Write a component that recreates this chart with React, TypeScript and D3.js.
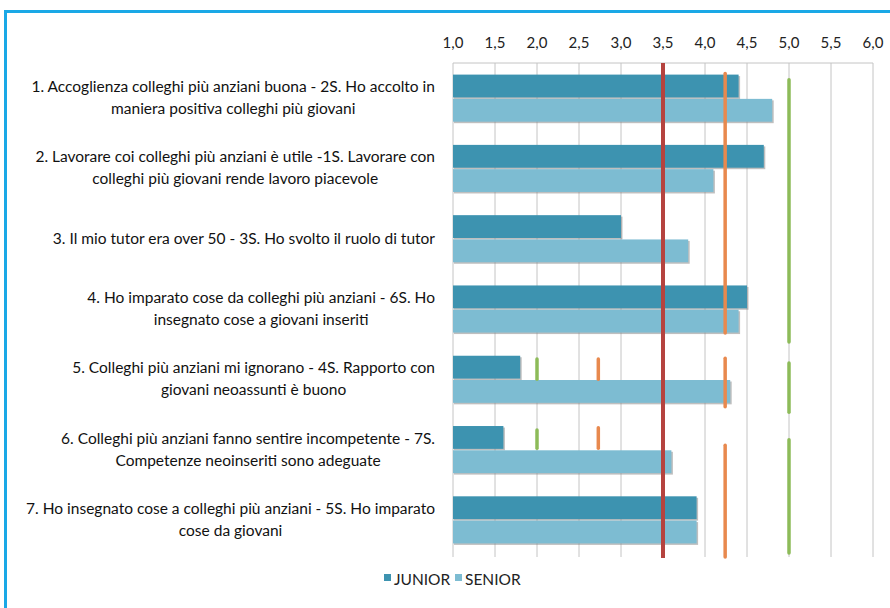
import * as d3 from "d3";
import React, { useEffect, useRef } from "react";

const categories = [
  ["1. Accoglienza colleghi più anziani buona - 2S. Ho accolto in", "maniera positiva colleghi più giovani"],
  ["2. Lavorare coi colleghi più anziani è utile -1S. Lavorare con", "colleghi più giovani rende lavoro piacevole"],
  ["3. Il mio tutor era over 50 - 3S. Ho svolto il ruolo di tutor"],
  ["4. Ho imparato cose da colleghi più anziani - 6S. Ho", "insegnato cose a giovani inseriti"],
  ["5. Colleghi più anziani mi ignorano - 4S. Rapporto con", "giovani neoassunti è buono"],
  ["6. Colleghi più anziani fanno sentire incompetente - 7S.", "Competenze neoinseriti sono adeguate"],
  ["7. Ho insegnato cose a colleghi più anziani - 5S. Ho imparato", "cose da giovani"],
];

const seriesNames = ["JUNIOR", "SENIOR"];
const juniorValues = [4.4, 4.7, 3.0, 4.5, 1.8, 1.6, 3.9];
const seniorValues = [4.8, 4.1, 3.8, 4.4, 4.3, 3.6, 3.9];

const tickValues = [1.0, 1.5, 2.0, 2.5, 3.0, 3.5, 4.0, 4.5, 5.0, 5.5, 6.0];

// reference line at scale midpoint
const midValue = 3.5;

// reference segments: value, start / end in category units (0..7)
const orangeSegments = [
  { value: 4.24, from: 0.15, to: 3.84 },
  { value: 4.24, from: 4.2, to: 4.89 },
  { value: 4.24, from: 5.44, to: 7.03 },
  { value: 2.73, from: 4.21, to: 4.5 },
  { value: 2.73, from: 5.19, to: 5.48 },
];
const greenSegments = [
  { value: 5.0, from: 0.24, to: 3.97 },
  { value: 5.0, from: 4.27, to: 4.97 },
  { value: 5.0, from: 5.36, to: 6.97 },
  { value: 2.0, from: 4.21, to: 4.5 },
  { value: 2.0, from: 5.22, to: 5.48 },
];

const colors = ["#3d93b0", "#7dbcd2"];
const FONT = "Lato, 'Open Sans', sans-serif";

const App: React.FC = () => {
  const svgRef = useRef<SVGSVGElement>(null);

  useEffect(() => {
    const svg = d3.select(svgRef.current);
    svg.selectAll("*").remove();

    const width = 890;
    const height = 608;
    const left = 453;
    const right = 873;
    const top = 63;
    const bottom = 555;

    svg.append("rect").attr("width", width).attr("height", height).attr("fill", "#fff");

    // outer frame
    svg
      .append("rect")
      .attr("x", 5.5)
      .attr("y", 11.5)
      .attr("width", 920)
      .attr("height", 700)
      .attr("fill", "none")
      .attr("stroke", "#1aa8e6")
      .attr("stroke-width", 3);

    const x = d3.scaleLinear().domain([1, 6]).range([left, right]);
    const yPos = d3.scaleLinear().domain([0, categories.length]).range([top, bottom]);

    const y = d3
      .scaleBand<number>()
      .domain(d3.range(categories.length))
      .range([top, bottom])
      .paddingInner(0.33)
      .paddingOuter(0.165);
    const ySub = d3
      .scaleBand<number>()
      .domain([0, 1])
      .range([0, y.bandwidth()])
      .paddingInner(0.06);

    // grid
    const grid = svg.append("g");
    grid
      .selectAll("line")
      .data(tickValues)
      .join("line")
      .attr("x1", (d) => x(d))
      .attr("x2", (d) => x(d))
      .attr("y1", top)
      .attr("y2", bottom + 2)
      .attr("stroke", "#c4c4c4")
      .attr("stroke-width", 1);
    grid
      .append("line")
      .attr("x1", left)
      .attr("x2", right)
      .attr("y1", top)
      .attr("y2", top)
      .attr("stroke", "#c4c4c4");

    // axis labels on top
    svg
      .append("g")
      .selectAll("text")
      .data(tickValues)
      .join("text")
      .attr("x", (d) => x(d))
      .attr("y", 48)
      .attr("text-anchor", "middle")
      .attr("font-family", FONT)
      .attr("font-size", 15)
      .attr("fill", "#222")
      .text((d) => d3.format(".1f")(d).replace(".", ","));

    // bars
    const values = [juniorValues, seniorValues];
    const groups = svg
      .append("g")
      .selectAll("g")
      .data(d3.range(categories.length))
      .join("g")
      .attr("transform", (i) => `translate(0,${y(i)})`);

    values.forEach((vals, s) => {
      groups
        .append("rect")
        .attr("x", left + 1)
        .attr("y", (i) => (ySub(s) as number) + 1.5)
        .attr("width", (i) => x(vals[i]) - left + 0.5)
        .attr("height", ySub.bandwidth())
        .attr("fill", "#8a8a8a")
        .attr("opacity", 0.55);
      groups
        .append("rect")
        .attr("x", left)
        .attr("y", ySub(s) as number)
        .attr("width", (i) => x(vals[i]) - left)
        .attr("height", ySub.bandwidth())
        .attr("fill", colors[s]);
    });

    // reference lines
    svg
      .append("line")
      .attr("x1", x(midValue))
      .attr("x2", x(midValue))
      .attr("y1", top)
      .attr("y2", bottom + 3)
      .attr("stroke", "#b5433f")
      .attr("stroke-width", 4);

    const drawSegments = (segs: typeof orangeSegments, color: string) => {
      svg
        .append("g")
        .selectAll("line")
        .data(segs)
        .join("line")
        .attr("x1", (d) => x(d.value))
        .attr("x2", (d) => x(d.value))
        .attr("y1", (d) => yPos(d.from))
        .attr("y2", (d) => yPos(d.to))
        .attr("stroke", color)
        .attr("stroke-width", 3.5)
        .attr("stroke-linecap", "round");
    };
    drawSegments(orangeSegments, "#e8894e");
    drawSegments(greenSegments, "#8dbb59");

    // category labels
    const labelRight = 435;
    const lineH = 22;
    categories.forEach((lines, i) => {
      const cy = (y(i) as number) + y.bandwidth() / 2;
      const g = svg.append("g");
      const texts = g
        .selectAll("text")
        .data(lines)
        .join("text")
        .attr("y", (_, k) => cy + (k - (lines.length - 1) / 2) * lineH + 5)
        .attr("font-family", FONT)
        .attr("font-size", 15.5)
        .attr("fill", "#111")
        .attr("text-anchor", "middle")
        .text((d) => d);
      let maxW = 0;
      texts.each(function () {
        maxW = Math.max(maxW, (this as SVGTextElement).getComputedTextLength());
      });
      texts.attr("x", labelRight - maxW / 2);
    });

    // legend
    const legend = svg.append("g").attr("transform", "translate(384,580)");
    const offsets = [0, 71];
    seriesNames.forEach((name, s) => {
      legend
        .append("rect")
        .attr("x", offsets[s])
        .attr("y", -6)
        .attr("width", 7)
        .attr("height", 7)
        .attr("fill", colors[s]);
      legend
        .append("text")
        .attr("x", offsets[s] + 10)
        .attr("y", 5)
        .attr("font-family", FONT)
        .attr("font-size", 15.5)
        .attr("fill", "#222")
        .text(name);
    });
  }, []);

  return (
    <div style={{ position: "absolute", left: 0, top: 0 }}>
      <svg ref={svgRef} width={890} height={608} style={{ display: "block" }} />
    </div>
  );
};

export default App;
